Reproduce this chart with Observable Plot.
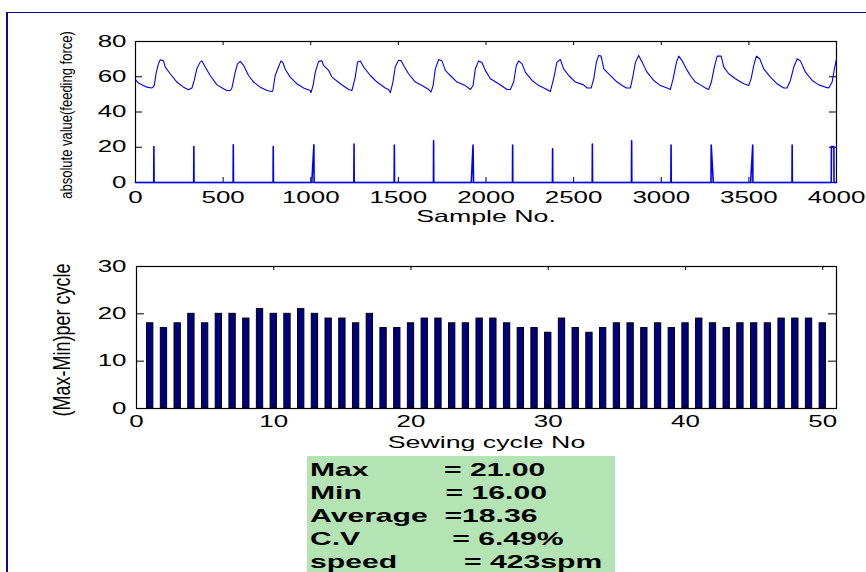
<!DOCTYPE html>
<html>
<head>
<meta charset="utf-8">
<script src="https://cdn.jsdelivr.net/npm/d3@7"></script>
<script src="https://cdn.jsdelivr.net/npm/@observablehq/plot@0.6"></script>
<style>
  html, body { margin: 0; padding: 0; background: #fff; }
  #fig { position: relative; width: 866px; height: 572px; overflow: hidden; font-family: "Liberation Sans", Arial, sans-serif; }
  #border { position: absolute; left: 6px; top: 12px; width: 880px; height: 600px; border-top: 1.5px solid #0a0a96; border-left: 2px solid #0a0a96; }
  #top, #bottom { position: absolute; left: 0; }
  #top { top: 0; }
  #bottom { top: 230px; }
  #stats { position: absolute; left: 307px; top: 456px; width: 308px; height: 120px; background: rgb(180,228,180); padding: 3px 0 0 3px; box-sizing: border-box; }
  #stats .ln { font-weight: bold; font-size: 18.6px; line-height: 22.9px; white-space: pre; transform: scaleX(1.62); transform-origin: 0 0; color: #000; }
</style>
</head>
<body>
<div id="fig">
  <div id="border"></div>
  <div id="top"></div>
  <div id="bottom"></div>
  <div id="stats"></div>
</div>
<script>
// ---------------- data ----------------
// top panel: feeding force trace (sample no., value)
const forceSample = [0,17,65,93,107,118,131,141,160,170,198,236,274,303,322,335,350,369,379,398,426,465,502,522,541,550,569,582,598,617,645,674,712,750,779,784,797,816,830,841,855,883,921,959,997,1001,1013,1026,1045,1064,1073,1102,1121,1169,1216,1235,1254,1267,1283,1302,1340,1378,1425,1444,1454,1469,1482,1501,1517,1530,1558,1597,1635,1673,1686,1698,1711,1730,1749,1768,1796,1835,1882,1911,1926,1939,1958,1977,1996,2025,2072,2120,2139,2158,2173,2186,2206,2224,2263,2301,2339,2367,2386,2405,2424,2443,2472,2510,2557,2577,2600,2615,2630,2643,2657,2672,2710,2748,2777,2801,2824,2839,2853,2871,2891,2919,2957,2995,3033,3052,3068,3087,3100,3120,3148,3166,3195,3224,3252,3271,3286,3303,3319,3342,3357,3385,3423,3471,3499,3513,3528,3543,3562,3585,3623,3661,3699,3718,3737,3756,3776,3794,3823,3861,3899,3937,3956,3975,3988,4000];
const forceValue = [58.4,56.4,54.1,53.6,55.0,62.2,67.3,69.6,69.0,65.5,61.7,57.0,54.1,52.6,53.6,57.9,64.5,68.3,69.0,65.5,60.7,55.4,53.2,52.2,52.2,53.6,62.6,67.3,68.7,66.4,60.7,57.0,54.1,52.2,51.6,52.2,60.7,65.5,69.0,68.1,64.1,59.8,56.0,53.6,52.2,50.9,55.0,62.6,68.7,69.0,66.4,63.6,59.8,56.0,52.8,52.2,59.8,68.3,69.0,65.5,60.7,57.0,53.6,52.8,50.9,57.0,65.5,69.4,69.0,66.4,61.7,57.0,55.0,52.8,51.3,55.0,64.5,69.8,69.0,63.6,60.7,57.0,55.0,52.8,55.0,64.5,69.0,68.1,63.6,58.9,56.0,52.8,52.8,57.0,66.4,69.0,67.3,62.6,57.9,55.0,53.2,51.6,58.9,68.3,69.8,64.5,60.7,57.0,55.4,53.6,53.6,58.9,68.3,72.1,71.7,64.5,60.7,57.0,55.0,53.6,53.6,60.7,68.3,72.1,68.3,62.6,57.9,55.0,53.6,52.8,58.9,68.3,71.7,69.0,63.6,60.7,57.0,55.4,53.6,52.8,57.0,65.5,71.7,71.7,65.5,61.7,58.9,56.0,55.0,58.9,66.4,71.7,70.2,64.5,59.8,56.0,53.6,53.6,57.9,65.5,70.2,69.0,62.6,57.9,55.4,54.1,53.6,57.0,64.5,70.2];

// top panel: trigger pulses (apex sample, height, rise / hold / fall in samples)
const pulseAt     = [105,333,558,786,1018,1247,1477,1701,1926,2152,2380,2607,2831,3056,3285,3522,3747,3971];
const pulseHeight = [20.4,20.4,21.4,20.4,21.4,21.8,21.2,23.7,21.2,21.2,19.1,21.8,23.7,21.2,21.2,21.2,21.2,20.4];
const pulseRise   = [1,1,1,1,12,1,1,1,10,1,1,1,1,1,1,12,1,1];
const pulseHold   = [0,0,0,0,0,0,0,0,0,0,0,0,0,0,0,0,0,14];
const pulseFall   = [1,1,1,1,1,1,1,1,3,1,1,1,1,1,12,1,1,1];

const sampleTicks = [0,500,1000,1500,2000,2500,3000,3500,4000];
const forceTicks  = [0,20,40,60,80];

// bottom panel: (Max-Min) per sewing cycle
const cycleRange = [18,17,18,20,18,20,20,19,21,20,20,21,20,19,19,18,20,17,17,18,19,19,18,18,19,19,18,17,17,16,19,17,16,17,18,18,17,18,17,18,19,18,17,18,18,18,19,19,19,18];
const cycleTicks = [0,10,20,30,40,50];
const rangeTicks = [0,10,20,30];
const cycleDomain = [0,51];

const statLabels = ["Max         ", "Min          ", "Average  ", "C.V           ", "speed        "];
const statValues = ["= 21.00", "= 16.00", "=18.36", "= 6.49%", "= 423spm"];

// ---------------- build ----------------
const forceData = forceSample.map((s, i) => ({s, v: forceValue[i]}));
const pulseData = [{s: sampleTicks[0], v: 0}];
pulseAt.forEach((a, i) => {
  pulseData.push({s: a - pulseRise[i], v: 0});
  pulseData.push({s: a, v: pulseHeight[i]});
  if (pulseHold[i]) pulseData.push({s: a + pulseHold[i], v: pulseHeight[i]});
  pulseData.push({s: a + pulseHold[i] + pulseFall[i], v: 0});
});
pulseData.push({s: sampleTicks[sampleTicks.length - 1], v: 0});

const cycleData = cycleRange.map((r, i) => ({cycle: i + 1, range: r}));

const FONT = "'Liberation Sans', Arial, sans-serif";
const STRETCH = 1.62;

function stretchTexts(svg) {
  svg.querySelectorAll("text").forEach(t => {
    const tr = t.getAttribute("transform") || "";
    if (tr.includes("rotate")) {
      // rotated labels: widen the glyphs horizontally on screen (local y axis)
      t.setAttribute("transform", `${tr} scale(1,1.3)`);
      return;
    }
    const x = +(t.getAttribute("x") || 0);
    t.setAttribute("x", 0);
    t.setAttribute("transform", `${tr} translate(${x},0) scale(${STRETCH},1)`);
  });
}

// ---- top panel ----
const T = {w: 866, h: 230, ml: 135, mr: 30, mt: 41, mb: 48};
const tIW = T.w - T.ml - T.mr, tIH = T.h - T.mt - T.mb;
const topSvg = Plot.plot({
  width: T.w, height: T.h,
  marginLeft: T.ml, marginRight: T.mr, marginTop: T.mt, marginBottom: T.mb,
  style: {fontFamily: FONT, fontSize: "16px", color: "#000", background: "none", overflow: "visible"},
  x: {domain: [sampleTicks[0], sampleTicks[sampleTicks.length - 1]]},
  y: {domain: [forceTicks[0], forceTicks[forceTicks.length - 1]]},
  marks: [
    Plot.frame({stroke: "#000", strokeWidth: 1.2}),
    Plot.tickX(sampleTicks, {x: d => d, insetTop: tIH - 5, stroke: "#000"}),
    Plot.tickX(sampleTicks, {x: d => d, insetBottom: tIH - 4, stroke: "#000"}),
    Plot.tickY(forceTicks, {y: d => d, insetRight: tIW - 7, stroke: "#000"}),
    Plot.tickY(forceTicks, {y: d => d, insetLeft: tIW - 7, stroke: "#000"}),
    Plot.axisX(sampleTicks, {tickSize: 0, tickPadding: 9, tickFormat: "d", label: null, fontSize: 16}),
    Plot.axisY(forceTicks, {tickSize: 0, tickPadding: 9, label: null, fontSize: 16}),
    Plot.line(pulseData, {x: "s", y: "v", stroke: "#0000ff", strokeWidth: 1.6}),
    Plot.line(forceData, {x: "s", y: "v", stroke: "#0000ff", strokeWidth: 1.1}),
    Plot.text(["Sample No."], {frameAnchor: "bottom", lineAnchor: "middle", textAnchor: "middle", dy: 34.5, fontSize: 16.5, fill: "#000"}),
    Plot.text(["absolute value(feeding force)"], {frameAnchor: "left", lineAnchor: "middle", textAnchor: "middle", dx: -69, dy: 3, rotate: -90, fontSize: 13, fill: "#000", letterSpacing: "-0.3px"})
  ]
});
stretchTexts(topSvg);
document.getElementById("top").appendChild(topSvg);

// ---- bottom panel ----
const B = {w: 866, h: 225, ml: 136, mr: 30, mt: 36, mb: 47};
const bIW = B.w - B.ml - B.mr, bIH = B.h - B.mt - B.mb;
const bottomSvg = Plot.plot({
  width: B.w, height: B.h,
  marginLeft: B.ml, marginRight: B.mr, marginTop: B.mt, marginBottom: B.mb,
  style: {fontFamily: FONT, fontSize: "16px", color: "#000", background: "none", overflow: "visible"},
  x: {domain: cycleDomain},
  y: {domain: [rangeTicks[0], rangeTicks[rangeTicks.length - 1]]},
  marks: [
    Plot.rectY(cycleData, {x1: d => d.cycle - 0.23, x2: d => d.cycle + 0.23, y1: 0, y2: "range", fill: "#000080", stroke: "#000", strokeWidth: 1}),
    Plot.frame({stroke: "#000", strokeWidth: 1.2}),
    Plot.tickX(cycleTicks, {x: d => d, insetTop: bIH - 5, stroke: "#000"}),
    Plot.tickX(cycleTicks, {x: d => d, insetBottom: bIH - 4, stroke: "#000"}),
    Plot.tickY(rangeTicks, {y: d => d, insetRight: bIW - 8, stroke: "#000"}),
    Plot.tickY(rangeTicks, {y: d => d, insetLeft: bIW - 8, stroke: "#000"}),
    Plot.axisX(cycleTicks, {tickSize: 0, tickPadding: 7.5, label: null, fontSize: 16}),
    Plot.axisY(rangeTicks, {tickSize: 0, tickPadding: 10, label: null, fontSize: 16}),
    Plot.text(["Sewing cycle No"], {frameAnchor: "bottom", lineAnchor: "middle", textAnchor: "middle", dy: 34.5, fontSize: 16.5, fill: "#000"}),
    Plot.text(["(Max-Min)per cycle"], {frameAnchor: "left", lineAnchor: "middle", textAnchor: "middle", dx: -74, dy: 2.5, rotate: -90, fontSize: 18, fill: "#000", letterSpacing: "-0.2px"})
  ]
});
stretchTexts(bottomSvg);
document.getElementById("bottom").appendChild(bottomSvg);

// ---- statistics box ----
const stats = document.getElementById("stats");
statLabels.forEach((l, i) => {
  const d = document.createElement("div");
  d.className = "ln";
  d.textContent = l + statValues[i];
  stats.appendChild(d);
});
</script>
</body>
</html>
